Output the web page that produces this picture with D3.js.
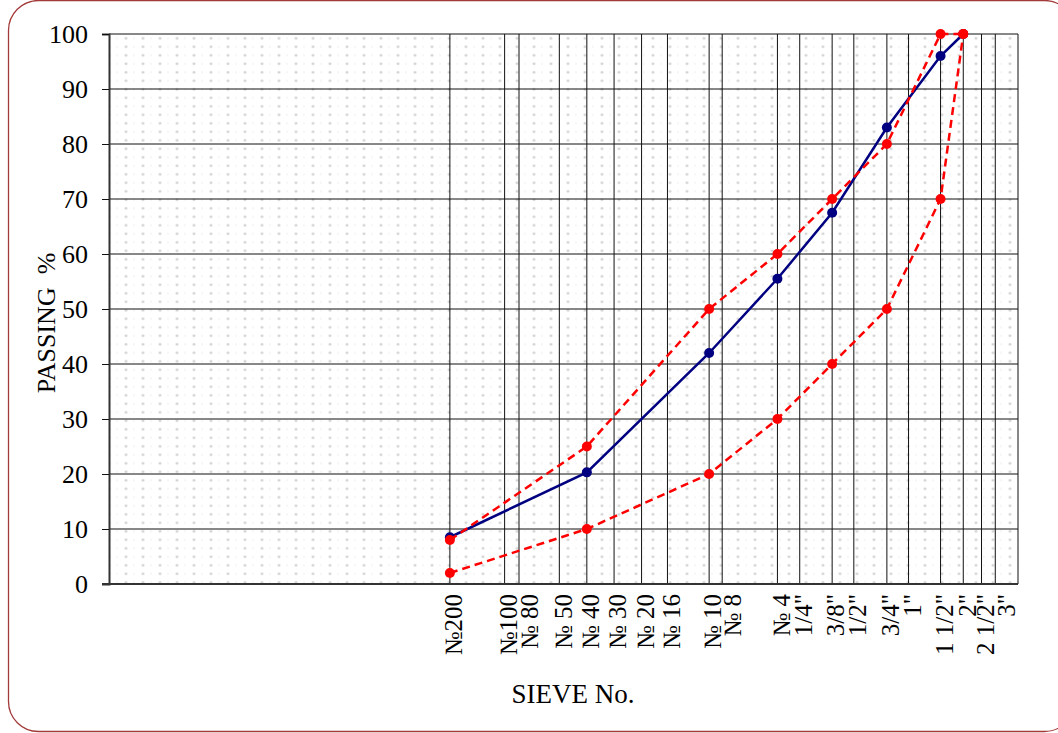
<!DOCTYPE html>
<html>
<head>
<meta charset="utf-8">
<script src="https://cdn.jsdelivr.net/npm/d3@7"></script>
<style>
  html, body { margin: 0; padding: 0; background: #fff; }
  svg { display: block; font-family: "Liberation Serif", "Times New Roman", serif; }
</style>
</head>
<body>
<script>
// ================== DATA ===========================
// sieve openings in mm and their labels
const sieveSizes = [0.075, 0.15, 0.18, 0.3, 0.425, 0.6, 0.85, 1.18, 2.0, 2.36, 4.75, 6.3, 9.5, 12.5, 19, 25, 37.5, 50, 63, 75];
const sieveLabels = ["№200", "№100", "№ 80", "№ 50", "№ 40", "№ 30", "№ 20", "№ 16", "№ 10", "№ 8", "№ 4",
                     "1/4\"", "3/8\"", "1/2\"", "3/4\"", "1\"", "1 1/2\"", "2\"", "2 1/2\"", "3\""];

// sieves actually used in the test
const testSieves = [0.075, 0.425, 2.0, 4.75, 9.5, 19, 37.5, 50];
const passing    = [8.5, 20.3, 42, 55.5, 67.5, 83, 96, 100];
const upperLimit = [8, 25, 50, 60, 70, 80, 100, 100];
const lowerLimit = [2, 10, 20, 30, 40, 50, 70, 100];

const yTicks = [0, 10, 20, 30, 40, 50, 60, 70, 80, 90, 100];

// ================== LAYOUT ===========================
const W = 1058, H = 733;
const margin = {left: 109, right: 40, top: 34, bottom: 149};
const plotW = W - margin.left - margin.right;
const plotH = H - margin.top - margin.bottom;

const svg = d3.select("body").append("svg")
              .attr("width", W)
              .attr("height", H);

// outer rounded frame
svg.append("rect")
   .attr("x", 8.5).attr("y", 0.5)
   .attr("width", 1066).attr("height", 731)
   .attr("rx", 30).attr("ry", 30)
   .attr("fill", "none")
   .attr("stroke", "#a33a3a")
   .attr("stroke-width", 1.3);

// dotted background pattern
const defs = svg.append("defs");
const pat = defs.append("pattern")
                .attr("id", "dots")
                .attr("patternUnits", "userSpaceOnUse")
                .attr("x", 110.5).attr("y", 34)
                .attr("width", 17).attr("height", 8.5);
pat.append("circle").attr("cx", 8.5).attr("cy", 4.3).attr("r", 1.3).attr("fill", "#cccccc");
pat.append("rect").attr("x", 16.5).attr("y", 3.3).attr("width", 1).attr("height", 2).attr("fill", "#d8d8d8");

const x = d3.scaleLog().domain([0.001, 100]).range([0, plotW]);
const y = d3.scaleLinear().domain([0, 100]).range([plotH, 0]);

const g = svg.append("g")
             .attr("transform", `translate(${margin.left}, ${margin.top})`);

g.append("rect")
 .attr("width", plotW).attr("height", plotH)
 .attr("fill", "url(#dots)");

// ============ grid lines ============
g.selectAll("line.hgrid")
 .data(yTicks.filter(d => d > 0)).enter()
 .append("line")
 .attr("class", "hgrid")
 .attr("x1", 0).attr("x2", plotW)
 .attr("y1", d => y(d)).attr("y2", d => y(d))
 .attr("stroke", "#111").attr("stroke-width", 1);

g.selectAll("line.vgrid")
 .data(sieveSizes).enter()
 .append("line")
 .attr("class", "vgrid")
 .attr("x1", d => x(d)).attr("x2", d => x(d))
 .attr("y1", 0).attr("y2", plotH)
 .attr("stroke", "#111").attr("stroke-width", 1);

// right border
g.append("line")
 .attr("x1", plotW).attr("x2", plotW).attr("y1", 0).attr("y2", plotH)
 .attr("stroke", "#111").attr("stroke-width", 1);

// ============ y axis ============
const yAxis = d3.axisLeft(y).tickValues(yTicks).tickSize(7).tickPadding(14);
const yG = g.append("g").call(yAxis);
yG.select(".domain").attr("stroke", "#333").attr("stroke-width", 2);
yG.selectAll(".tick line").attr("stroke", "#111");
yG.selectAll(".tick text")
  .attr("font-family", "Liberation Serif, Times New Roman, serif")
  .attr("font-size", 26).attr("fill", "#000");

// ============ x axis ============
// labels crowded against their left neighbour get nudged right a little
const nudge = (d, i) => (i > 0 && x(d) - x(sieveSizes[i - 1]) < 15) ? 10 : 3;

const xAxis = d3.axisBottom(x).tickValues(sieveSizes).tickSize(0).tickFormat((d, i) => sieveLabels[i]);
const xG = g.append("g").attr("transform", `translate(0, ${plotH})`).call(xAxis);
xG.select(".domain").remove();
xG.selectAll(".tick text")
  .attr("font-family", "Liberation Serif, Times New Roman, serif")
  .attr("font-size", 25).attr("fill", "#000")
  .attr("text-anchor", "end")
  .attr("transform", "rotate(-90)")
  .attr("x", -10).attr("y", (d, i) => nudge(d, i)).attr("dy", "0.35em");

// bottom axis line
g.append("line")
 .attr("x1", -7).attr("x2", plotW).attr("y1", plotH).attr("y2", plotH)
 .attr("stroke", "#333").attr("stroke-width", 2);

// ============ axis titles ============
svg.append("text")
   .attr("x", 573).attr("y", 703)
   .attr("text-anchor", "middle")
   .attr("font-size", 27)
   .text("SIEVE No.");

svg.append("text")
   .attr("transform", "translate(55, 323) rotate(-90)")
   .attr("text-anchor", "middle")
   .attr("font-size", 26)
   .attr("xml:space", "preserve")
   .style("white-space", "pre")
   .text("PASSING  %");

// ============ series ============
const line = d3.line().x(d => x(d[0])).y(d => y(d[1]));

function drawSeries(vals, color, dashed) {
  const pts = testSieves.map((s, i) => [s, vals[i]]);
  g.append("path")
   .datum(pts)
   .attr("d", line)
   .attr("fill", "none")
   .attr("stroke", color)
   .attr("stroke-width", 2.5)
   .attr("stroke-dasharray", dashed ? "8,5" : null);
  g.append("g").selectAll("circle")
   .data(pts).enter()
   .append("circle")
   .attr("cx", d => x(d[0])).attr("cy", d => y(d[1]))
   .attr("r", 5)
   .attr("fill", color);
}

drawSeries(passing, "#000080", false);
drawSeries(upperLimit, "#ff0000", true);
drawSeries(lowerLimit, "#ff0000", true);
</script>
</body>
</html>
